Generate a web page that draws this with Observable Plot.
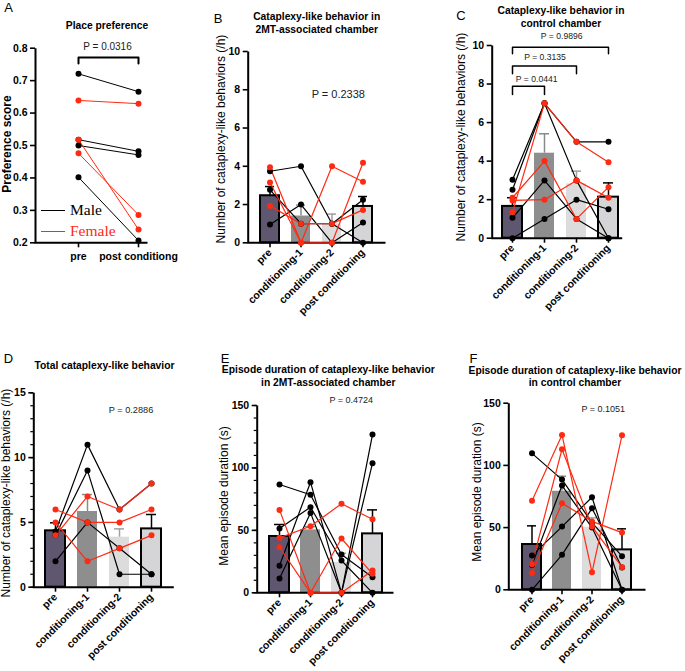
<!DOCTYPE html>
<html>
<head>
<meta charset="utf-8">
<script src="https://cdn.jsdelivr.net/npm/d3@7"></script>
<script src="https://cdn.jsdelivr.net/npm/@observablehq/plot@0.6"></script>
<style>
  html, body { margin: 0; padding: 0; background: #fff; }
  #root { position: relative; width: 685px; height: 671px; overflow: hidden; background: #fff; }
  .t { position: absolute; white-space: nowrap; line-height: 1; font-family: "Liberation Sans", Arial, sans-serif; transform: translate(-50%, -50%); }
</style>
</head>
<body>
<div id="root"></div>
<script>
// ---------- data ----------
const cats = ["pre", "conditioning-1", "conditioning-2", "post conditioning"];

// A: place preference
const aCats = ["pre", "post conditiong"];
const aMale = [[0.721, 0.666], [0.518, 0.482], [0.500, 0.471], [0.402, 0.207]];
const aFemale = [[0.639, 0.629], [0.518, 0.241], [0.476, 0.286]];
const aTicks = [0.2, 0.3, 0.4, 0.5, 0.6, 0.7, 0.8];
const aBracket = [0.753, 0.771];

// B: cataplexy in 2MT chamber
const bMean = [2.46, 1.4, 0.98, 1.9];
const bErr = [2.94, 1.97, 1.5, 2.42];
const bMale = [[3.74, 4.0, 1.0, 0], [2.77, 1.0, 1.0, 2.25], [0.96, 2.0, 0, 1.06]];
const bFemale = [[3.95, 0, 4.0, 3.19], [3.15, 0, 0, 4.18], [1.93, 1.0, 1.0, 1.72]];
const bcTicks = [0, 2, 4, 6, 8, 10];

// C: cataplexy in control chamber
const cMean = [1.65, 4.41, 2.82, 2.13];
const cErr = [2.1, 5.42, 3.48, 2.87];
const cMale = [[3.03, 7, 5, 5], [2.51, 7, 3, 0], [0, 1, 2, 1.5], [1.06, 3, 1, 0]];
const cFemale = [[1.35, 7, 5, 3.94], [2.1, 4, 1, 2.65], [1.96, 2, 3, 2.1]];
const cBrackets = [
  {to: "conditioning-1", leg: 7.46, top: 7.89},
  {to: "conditioning-2", leg: 8.53, top: 8.93},
  {to: "post conditioning", leg: 9.57, top: 9.91}
];

// D: total cataplexy
const dMean = [4.35, 5.84, 3.86, 4.5];
const dErr = [4.97, 7.15, 4.5, 5.61];
const dMale = [[4.3, 11, 6, 8], [4.0, 9, 1, 1], [2, 5, 3, 1]];
const dFemale = [[4, 7, 6, 8], [6, 5, 5, 6], [5, 2, 3, 4]];
const dTicks = [0, 5, 10, 15];
const dMinor = d3.range(0, 16, 1);

// E: episode duration 2MT chamber
const eMean = [45.1, 50.4, 24.3, 47.2];
const eErr = [54.7, 53, 31.7, 66.4];
const eMale = [[86.7, 78.5, 30.7, 12.5], [21.6, 88.6, 0, 126.7], [51.5, 68.6, 25.9, 0], [11.4, 64, 0, 103.8]];
const eFemale = [[66.4, 0, 43.5, 15.2], [44, 53.3, 71.3, 58.9], [36.5, 0, 0, 17.9]];
const efTicks = [0, 50, 100, 150];
const eMinor = d3.range(0, 151, 10);

// F: episode duration control chamber
const fMean = [36.4, 79.2, 50.3, 32.1];
const fErr = [51.4, 91.3, 57.8, 49];
const fMale = [[109.7, 88.6, 54, 27], [27.5, 50.8, 74.4, 0], [0, 28.1, 65.5, 18], [20, 83.8, 50, 0]];
const fFemale = [[71.5, 124.5, 14.1, 124.2], [20.6, 113, 50.8, 18.2], [13.6, 69.6, 55, 46]];

// ---------- styles ----------
const BLACK = "#000";
const RED = "#ff2a12";
const barFill = ["#5f5670", "#8e8e8e", "#dcdcdc", "#d5d5d7"];
const barStroke = ["#000", "none", "none", "#000"];
const errStroke = ["#000", "#8a8a8a", "#a0a0a0", "#000"];
const FONT = "'Liberation Sans', Arial, sans-serif";

const root = document.getElementById("root");

function makePanel(cfg) {
  const {cats, frame: [L, R, T, B], c0, step, barW = 20, yDomain, yTicks, yMinor, yFmt,
         means, errs, males, females, extra = [], rotate = true, lineW = 1.2} = cfg;
  const n = cats.length;
  const pi = 1 - barW / step;
  const rows = [];
  males.forEach((vals, k) => vals.forEach((v, i) => rows.push({cat: cats[i], v, id: "m" + k, sex: "M"})));
  females.forEach((vals, k) => vals.forEach((v, i) => rows.push({cat: cats[i], v, id: "f" + k, sex: "F"})));
  const bars = means ? cats.map((c, i) => ({cat: c, mean: means[i], err: errs[i], i})) : [];
  const w = R - L, h = B - T;
  const marks = [];
  if (means) {
    marks.push(
      Plot.barY(bars, {x: "cat", y: "mean", fill: d => barFill[d.i], stroke: d => barStroke[d.i], strokeWidth: 2}),
      Plot.ruleX(bars, {x: "cat", y1: "mean", y2: "err", stroke: d => errStroke[d.i], strokeWidth: 1.5}),
      Plot.tickY(bars, {x: "cat", y: "err", stroke: d => errStroke[d.i], strokeWidth: 1.5, insetLeft: 5, insetRight: 5})
    );
  }
  marks.push(
    Plot.frame({stroke: BLACK, strokeWidth: 2, strokeDasharray: `0 ${w + h} ${w + h}`}),
    Plot.axisY(yTicks, {tickSize: 5, tickPadding: 3, tickFormat: yFmt, strokeWidth: 1.6,
                        fontWeight: "bold", fontSize: 10.5, label: null, fill: BLACK}),
  );
  if (yMinor) marks.push(Plot.axisY(yMinor, {tickSize: 3, tickFormat: () => "", strokeWidth: 1.2, label: null}));
  marks.push(
    Plot.axisX({tickSize: 5, tickPadding: rotate ? 3 : 5, tickRotate: rotate ? -45 : 0, strokeWidth: 1.6,
                fontWeight: "bold", fontSize: 10.5, label: null, fill: BLACK}),
    Plot.line(rows, {x: "cat", y: "v", z: "id", stroke: d => d.sex === "M" ? BLACK : RED, strokeWidth: lineW}),
    Plot.dot(rows.filter(d => d.sex === "M"), {x: "cat", y: "v", fill: BLACK, r: 3}),
    Plot.dot(rows.filter(d => d.sex === "F"), {x: "cat", y: "v", fill: RED, r: 3}),
    ...extra
  );
  const svg = Plot.plot({
    width: 685, height: 671,
    marginLeft: L, marginRight: 685 - R, marginTop: T, marginBottom: 671 - B,
    x: {type: "band", domain: cats, range: [c0 - step / 2, c0 + (n - 0.5) * step], paddingInner: pi, paddingOuter: pi / 2},
    y: {domain: yDomain},
    color: {type: "identity"},
    style: {background: "none", fontFamily: FONT, fontSize: "10.5px", color: "black", overflow: "visible"},
    marks
  });
  svg.style.position = "absolute";
  svg.style.left = "0px";
  svg.style.top = "0px";
  root.appendChild(svg);
}

function bracket(from, to, leg, top, sw) {
  return Plot.line([{x: from, y: leg}, {x: from, y: top}, {x: to, y: top}, {x: to, y: leg}],
                   {x: "x", y: "y", stroke: BLACK, strokeWidth: sw});
}

// A
makePanel({
  cats: aCats, frame: [35, 147, 47.7, 242.3], c0: 77.3, step: 60.4, yDomain: [0.2, 0.8],
  yTicks: aTicks, yFmt: d3.format(".1f"), males: aMale, females: aFemale, rotate: false, lineW: 1,
  extra: [bracket(aCats[0], aCats[1], aBracket[0], aBracket[1], 2)]
});
// B
makePanel({
  cats, frame: [247.7, 385, 51, 242.3], c0: 268.3, step: 31.8, yDomain: [0, 10],
  yTicks: bcTicks, yFmt: d3.format("d"), means: bMean, errs: bErr, males: bMale, females: bFemale
});
// C
makePanel({
  cats, frame: [491.7, 621.7, 45, 237.7], c0: 512.3, step: 32.1, yDomain: [0, 10],
  yTicks: bcTicks, yFmt: d3.format("d"), means: cMean, errs: cErr, males: cMale, females: cFemale,
  extra: cBrackets.map(b => bracket(cats[0], b.to, b.leg, b.top, 1.5))
});
// D
makePanel({
  cats, frame: [33.3, 173.3, 392.3, 586.7], c0: 55, step: 32.2, yDomain: [0, 15],
  yTicks: dTicks, yMinor: dMinor, yFmt: d3.format("d"), means: dMean, errs: dErr, males: dMale, females: dFemale
});
// E
makePanel({
  cats, frame: [256.7, 393, 405, 592.3], c0: 279, step: 31.2, yDomain: [0, 150],
  yTicks: efTicks, yMinor: eMinor, yFmt: d3.format("d"), means: eMean, errs: eErr, males: eMale, females: eFemale
});
// F
makePanel({
  cats, frame: [508.3, 645, 402.7, 589.3], c0: 531, step: 30.8, yDomain: [0, 150],
  yTicks: efTicks, yFmt: d3.format("d"), means: fMean, errs: fErr, males: fMale, females: fFemale
});

// ---------- text overlays ----------
function addText(txt, cx, cy, o = {}) {
  const el = document.createElement("div");
  el.className = "t";
  el.textContent = txt;
  el.style.left = cx + "px";
  el.style.top = cy + "px";
  el.style.fontSize = (o.size || 10.5) + "px";
  el.style.fontWeight = o.weight || "normal";
  el.style.color = o.color || "#000";
  if (o.family) el.style.fontFamily = o.family;
  if (o.rotate) el.style.transform = "translate(-50%, -50%) rotate(-90deg)";
  root.appendChild(el);
}

// panel letters
const letters = [["A", 8.5, 6.5], ["B", 218, 17.5], ["C", 461, 15], ["D", 8.5, 358], ["E", 225, 357.5], ["F", 473.5, 358]];
letters.forEach(([l, x, y]) => addText(l, x, y, {size: 13}));

// titles
const titles = [
  ["Place preference", 107, 25.5],
  ["Cataplexy-like behavior in", 316.7, 17],
  ["2MT-associated chamber", 316.7, 29.5],
  ["Cataplexy-like behavior in", 561, 11],
  ["control chamber", 561, 23.5],
  ["Total cataplexy-like behavior", 104.5, 366],
  ["Episode duration of cataplexy-like behavior", 328.3, 370],
  ["in 2MT-associated chamber", 328.3, 382.5],
  ["Episode duration of cataplexy-like behavior", 575, 371],
  ["in control chamber", 575, 383]
];
titles.forEach(([s, x, y]) => addText(s, x, y, {size: 10.3, weight: "bold"}));

// y-axis labels
addText("Preference score", 6.5, 144, {size: 12, weight: "bold", rotate: true});
addText("Number of cataplexy-like behaviors (/h)", 221, 139, {size: 12, rotate: true});
addText("Number of cataplexy-like behaviors (/h)", 461, 137, {size: 12, rotate: true});
addText("Number of cataplexy-like behaviors (/h)", 6, 492.5, {size: 12, rotate: true});
addText("Mean episode duration (s)", 224, 496, {size: 12, rotate: true});
addText("Mean episode duration (s)", 477, 491.5, {size: 12, rotate: true});

// P values
const pvals = [
  ["P = 0.0316", 107.5, 47, 10],
  ["P = 0.2338", 338.3, 94, 11],
  ["P = 0.9896", 561.7, 36, 8.6],
  ["P = 0.3135", 545, 56.7, 8.6],
  ["P = 0.0441", 536.7, 79, 8.6],
  ["P = 0.2886", 131, 410.5, 9.2],
  ["P = 0.4724", 351.3, 400, 9],
  ["P = 0.1051", 603.3, 409, 9]
];
pvals.forEach(([s, x, y, sz]) => addText(s, x, y, {size: sz, color: "#222"}));

// legend (panel A)
function legendItem(label, color, y) {
  const ln = document.createElement("div");
  ln.style.cssText = `position:absolute;left:41px;top:${y - 0.6}px;width:24px;height:0;border-top:1.3px solid ${color};`;
  root.appendChild(ln);
  const tx = document.createElement("div");
  tx.textContent = label;
  tx.style.cssText = `position:absolute;left:70px;top:${y}px;transform:translateY(-55%);font-family:'Liberation Serif','Times New Roman',serif;font-size:15.5px;line-height:1;color:${color};white-space:nowrap;`;
  root.appendChild(tx);
}
legendItem("Male", BLACK, 211);
legendItem("Female", RED, 232);
</script>
</body>
</html>
